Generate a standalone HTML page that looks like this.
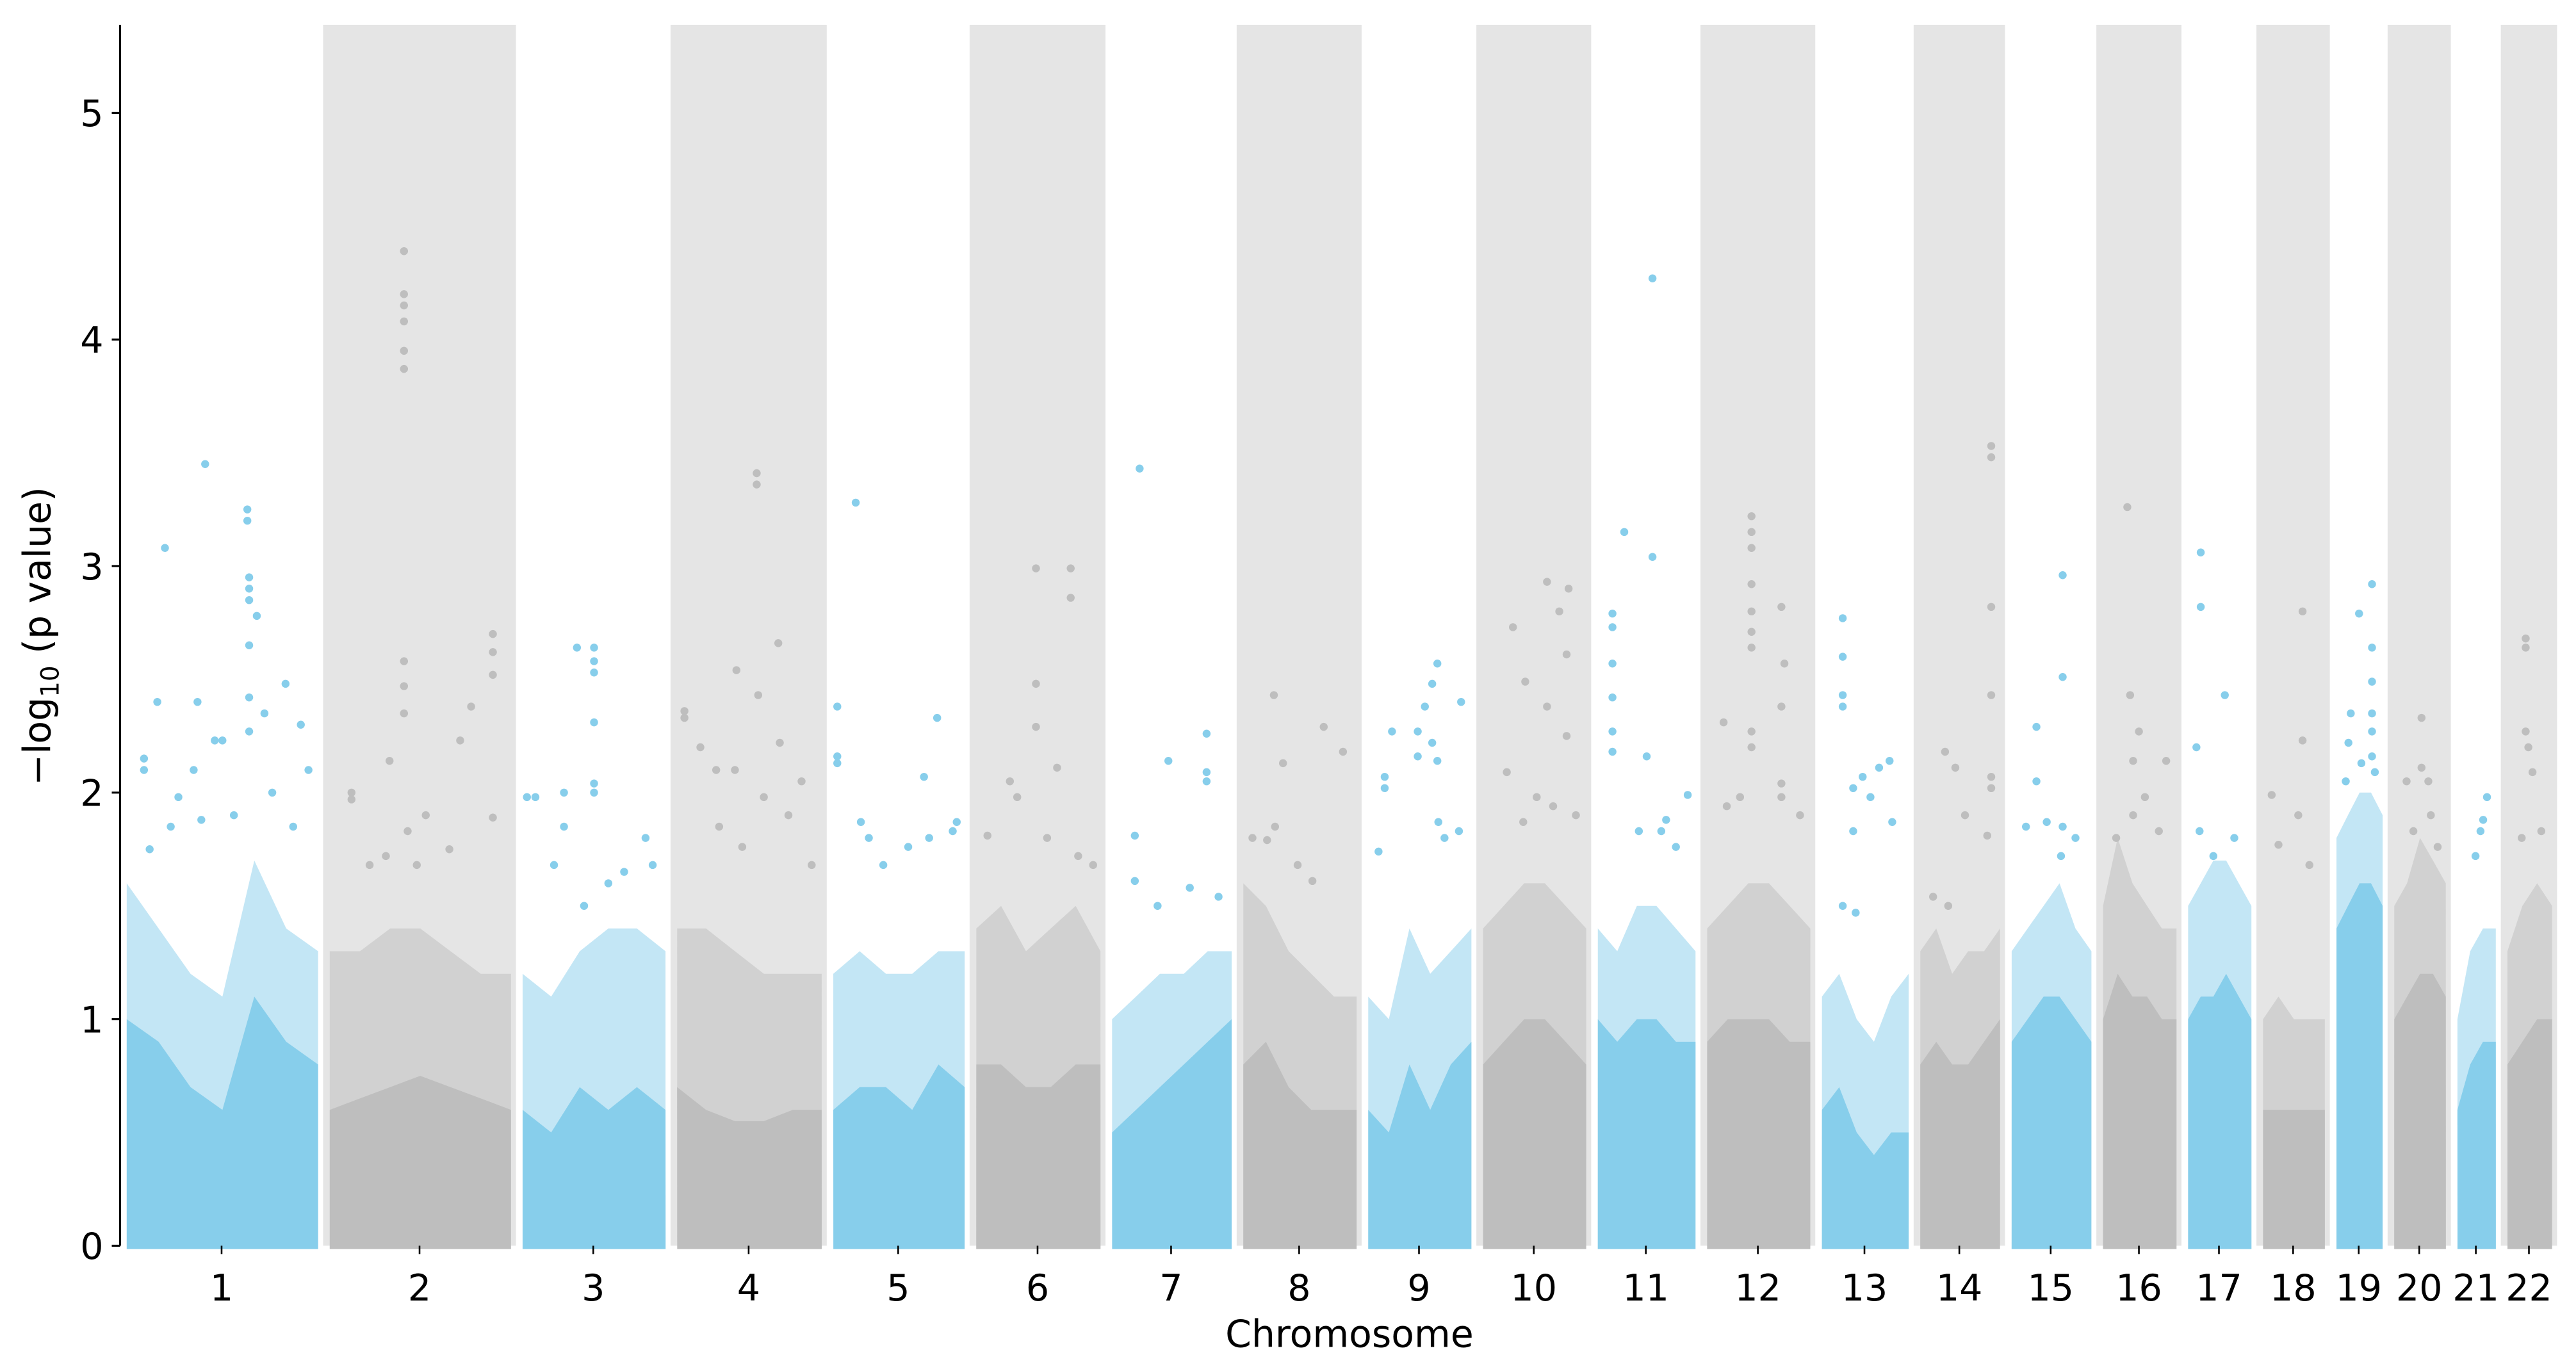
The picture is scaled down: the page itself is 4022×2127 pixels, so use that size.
<!DOCTYPE html>
<html><head><meta charset="utf-8"><style>
html,body{margin:0;padding:0;background:#fff;}
svg{display:block;}
text{font-family:"DejaVu Sans","Liberation Sans",sans-serif;fill:#000;}
</style></head><body>
<svg id="chart" width="4022" height="2127" viewBox="0 0 1550 820" xmlns="http://www.w3.org/2000/svg">
<g id="bands"></g>
<g id="dense"></g>
<g id="pts"></g>
<g id="axes"></g>
<text x="812" y="811" font-size="22.5" text-anchor="middle">Chromosome</text>
<text transform="translate(30,383) rotate(-90)" font-size="22.5" text-anchor="middle">−log<tspan font-size="15" dy="5">10</tspan><tspan dy="-5"> (p value)</tspan></text>
</svg>
<script>
const chromNames = ["1","2","3","4","5","6","7","8","9","10","11","12","13","14","15","16","17","18","19","20","21","22"];
const chromLengths = [260,247,198,200,183,174,168,160,147,147,140,147,126,117,117,109,96,94,74,81,64,72];
const yTicks = [0,1,2,3,4,5];
const solidTop = [
 [1.0,0.9,0.7,0.6,1.1,0.9,0.8],[0.6,0.65,0.7,0.75,0.7,0.65,0.6],[0.6,0.5,0.7,0.6,0.7,0.6],
 [0.7,0.6,0.55,0.55,0.6,0.6],[0.6,0.7,0.7,0.6,0.8,0.7],[0.8,0.8,0.7,0.7,0.8,0.8],
 [0.5,0.6,0.7,0.8,0.9,1.0],[0.8,0.9,0.7,0.6,0.6,0.6],[0.6,0.5,0.8,0.6,0.8,0.9],
 [0.8,0.9,1.0,1.0,0.9,0.8],[1.0,0.9,1.0,1.0,0.9,0.9],[0.9,1.0,1.0,1.0,0.9,0.9],
 [0.6,0.7,0.5,0.4,0.5,0.5],[0.8,0.9,0.8,0.8,0.9,1.0],[0.9,1.0,1.1,1.1,1.0,0.9],
 [1.0,1.2,1.1,1.1,1.0,1.0],[1.0,1.1,1.1,1.2,1.1,1.0],[0.6,0.6,0.6,0.6,0.6],
 [1.4,1.5,1.6,1.6,1.5],[1.0,1.1,1.2,1.2,1.1],[0.6,0.8,0.9,0.9],[0.8,0.9,1.0,1.0]];
const midTop = [
 [1.6,1.4,1.2,1.1,1.7,1.4,1.3],[1.3,1.3,1.4,1.4,1.3,1.2,1.2],[1.2,1.1,1.3,1.4,1.4,1.3],
 [1.4,1.4,1.3,1.2,1.2,1.2],[1.2,1.3,1.2,1.2,1.3,1.3],[1.4,1.5,1.3,1.4,1.5,1.3],
 [1.0,1.1,1.2,1.2,1.3,1.3],[1.6,1.5,1.3,1.2,1.1,1.1],[1.1,1.0,1.4,1.2,1.3,1.4],
 [1.4,1.5,1.6,1.6,1.5,1.4],[1.4,1.3,1.5,1.5,1.4,1.3],[1.4,1.5,1.6,1.6,1.5,1.4],
 [1.1,1.2,1.0,0.9,1.1,1.2],[1.3,1.4,1.2,1.3,1.3,1.4],[1.3,1.4,1.5,1.6,1.4,1.3],
 [1.5,1.8,1.6,1.5,1.4,1.4],[1.5,1.6,1.7,1.7,1.6,1.5],[1.0,1.1,1.0,1.0,1.0],
 [1.8,1.9,2.0,2.0,1.9],[1.5,1.6,1.8,1.7,1.6],[1.0,1.3,1.4,1.4],[1.3,1.5,1.6,1.5]];
// [position fraction within chromosome, -log10 p]
const peakPoints = [
 [[0.2,3.08],[0.41,3.45],[0.63,3.25],[0.63,3.2],[0.64,2.95],[0.64,2.9],[0.64,2.85],[0.64,2.65],[0.68,2.78],[0.83,2.48],[0.16,2.4],[0.37,2.4],[0.09,2.15],[0.09,2.1],[0.46,2.23],[0.5,2.23],[0.91,2.3],[0.95,2.1],[0.27,1.98],[0.72,2.35],[0.64,2.42],[0.64,2.27],[0.35,2.1],[0.23,1.85],[0.56,1.9],[0.76,2.0],[0.87,1.85],[0.12,1.75],[0.39,1.88]],
 [[0.41,4.39],[0.41,4.2],[0.41,4.15],[0.41,4.08],[0.41,3.95],[0.41,3.87],[0.41,2.58],[0.41,2.47],[0.41,2.35],[0.33,2.14],[0.12,2.0],[0.12,1.97],[0.9,2.7],[0.9,2.62],[0.9,2.52],[0.78,2.38],[0.72,2.23],[0.9,1.89],[0.53,1.9],[0.43,1.83],[0.66,1.75],[0.22,1.68],[0.31,1.72],[0.48,1.68]],
 [[0.38,2.64],[0.5,2.64],[0.5,2.58],[0.5,2.53],[0.5,2.31],[0.5,2.04],[0.5,2.0],[0.09,1.98],[0.03,1.98],[0.29,2.0],[0.29,1.85],[0.86,1.8],[0.91,1.68],[0.6,1.6],[0.71,1.65],[0.22,1.68],[0.43,1.5]],
 [[0.55,3.41],[0.55,3.36],[0.7,2.66],[0.41,2.54],[0.56,2.43],[0.05,2.36],[0.05,2.33],[0.16,2.2],[0.71,2.22],[0.27,2.1],[0.4,2.1],[0.86,2.05],[0.6,1.98],[0.29,1.85],[0.93,1.68],[0.77,1.9],[0.45,1.76]],
 [[0.17,3.28],[0.03,2.38],[0.03,2.16],[0.03,2.13],[0.79,2.33],[0.69,2.07],[0.21,1.87],[0.27,1.8],[0.57,1.76],[0.91,1.83],[0.94,1.87],[0.38,1.68],[0.73,1.8]],
 [[0.48,2.99],[0.76,2.99],[0.76,2.86],[0.48,2.48],[0.48,2.29],[0.65,2.11],[0.27,2.05],[0.33,1.98],[0.82,1.72],[0.09,1.81],[0.57,1.8],[0.94,1.68]],
 [[0.23,3.43],[0.79,2.26],[0.79,2.09],[0.79,2.05],[0.47,2.14],[0.19,1.81],[0.19,1.61],[0.65,1.58],[0.38,1.5],[0.89,1.54]],
 [[0.27,2.43],[0.71,2.29],[0.35,2.13],[0.88,2.18],[0.28,1.85],[0.21,1.79],[0.48,1.68],[0.08,1.8],[0.61,1.61]],
 [[0.67,2.57],[0.62,2.48],[0.55,2.38],[0.9,2.4],[0.23,2.27],[0.48,2.27],[0.62,2.22],[0.48,2.16],[0.67,2.14],[0.16,2.07],[0.16,2.02],[0.68,1.87],[0.1,1.74],[0.74,1.8],[0.88,1.83]],
 [[0.62,2.93],[0.83,2.9],[0.29,2.73],[0.74,2.8],[0.81,2.61],[0.41,2.49],[0.62,2.38],[0.81,2.25],[0.23,2.09],[0.52,1.98],[0.9,1.9],[0.68,1.94],[0.39,1.87]],
 [[0.56,4.27],[0.27,3.15],[0.56,3.04],[0.15,2.79],[0.15,2.73],[0.15,2.57],[0.15,2.42],[0.15,2.27],[0.15,2.18],[0.5,2.16],[0.92,1.99],[0.7,1.88],[0.65,1.83],[0.42,1.83],[0.8,1.76]],
 [[0.43,3.22],[0.43,3.15],[0.43,3.08],[0.72,2.82],[0.43,2.92],[0.43,2.8],[0.43,2.71],[0.43,2.64],[0.75,2.57],[0.16,2.31],[0.43,2.27],[0.43,2.2],[0.72,2.38],[0.72,2.04],[0.72,1.98],[0.19,1.94],[0.32,1.98],[0.9,1.9]],
 [[0.24,2.77],[0.24,2.6],[0.24,2.43],[0.24,2.38],[0.78,2.14],[0.66,2.11],[0.36,2.02],[0.47,2.07],[0.56,1.98],[0.36,1.83],[0.81,1.87],[0.24,1.5],[0.39,1.47]],
 [[0.89,3.53],[0.89,3.48],[0.89,2.82],[0.89,2.43],[0.89,2.07],[0.89,2.02],[0.31,2.18],[0.44,2.11],[0.84,1.81],[0.56,1.9],[0.16,1.54],[0.35,1.5]],
 [[0.64,2.96],[0.64,2.51],[0.31,2.29],[0.31,2.05],[0.44,1.87],[0.64,1.85],[0.18,1.85],[0.8,1.8],[0.62,1.72]],
 [[0.33,3.26],[0.37,2.43],[0.49,2.27],[0.41,2.14],[0.86,2.14],[0.57,1.98],[0.41,1.9],[0.76,1.83],[0.18,1.8]],
 [[0.2,3.06],[0.2,2.82],[0.58,2.43],[0.13,2.2],[0.18,1.83],[0.73,1.8],[0.4,1.72]],
 [[0.64,2.8],[0.64,2.23],[0.14,1.99],[0.57,1.9],[0.25,1.77],[0.75,1.68]],
 [[0.77,2.92],[0.49,2.79],[0.77,2.64],[0.77,2.49],[0.31,2.35],[0.77,2.35],[0.77,2.27],[0.77,2.16],[0.26,2.22],[0.54,2.13],[0.2,2.05],[0.83,2.09]],
 [[0.53,2.33],[0.53,2.11],[0.66,2.05],[0.24,2.05],[0.71,1.9],[0.37,1.83],[0.84,1.76]],
 [[0.77,1.98],[0.67,1.88],[0.47,1.72],[0.6,1.83]],
 [[0.41,2.68],[0.41,2.64],[0.41,2.27],[0.47,2.2],[0.56,2.09],[0.32,1.8],[0.76,1.83]]
];

const NS="http://www.w3.org/2000/svg";
const X0=72, PXPERMB=0.47, Y0=750, PXPERUNIT=136.4, YTOP=15;
function xScale(mb){return X0+mb*PXPERMB;}
function yScale(v){return Y0-v*PXPERUNIT;}
function mk(tag,attrs,parent){const e=document.createElementNS(NS,tag);for(const k in attrs)e.setAttribute(k,attrs[k]);parent.appendChild(e);return e;}
const bands=document.getElementById('bands'),dense=document.getElementById('dense'),pts=document.getElementById('pts'),axes=document.getElementById('axes');
const BLUE="#87ceeb",GRAY="#bebebe";
let cum=0;
chromNames.forEach((name,i)=>{
  const s=cum,e=cum+chromLengths[i];cum=e;
  const xs=xScale(s),xe=xScale(e);
  const col=i%2===0?BLUE:GRAY;
  if(i%2===1){
    const r=mk('rect',{x:xs,y:YTOP,width:xe-xs,height:Y0-YTOP,fill:"#e5e5e5"},bands);
    
    
  }
  const a=xs+4,b=xe-3;
  function poly(arr,op,nm){
    let d=`M${a},${Y0+2} `;
    arr.forEach((v,k)=>{const x=a+(b-a)*k/(arr.length-1);d+=`L${x.toFixed(1)},${yScale(v).toFixed(1)} `;});
    d+=`L${b},${Y0+2} Z`;
    const p=mk('path',{d:d,fill:col,'fill-opacity':op},dense);
    
    
  }
  poly(midTop[i],0.5,'sparse-region');
  poly(solidTop[i],1,'dense-region');
  peakPoints[i].forEach(pv=>{
    const c=mk('circle',{cx:(a+(b-a)*pv[0]).toFixed(1),cy:yScale(pv[1]).toFixed(1),r:2.4,fill:col},pts);
    
    
  });
  const cx=(xs+xe)/2;
  const t=mk('line',{x1:cx,x2:cx,y1:Y0,y2:Y0+5,stroke:"#000","stroke-width":1},axes);
  
  
  const lb=mk('text',{x:cx,y:Y0+33,'font-size':22,'text-anchor':'middle'},axes);
  lb.textContent=name;
  
  
});
const sp=mk('line',{x1:X0,x2:X0,y1:YTOP,y2:Y0,stroke:"#000","stroke-width":1.2},axes);


yTicks.forEach(v=>{
  const y=yScale(v);
  const t=mk('line',{x1:X0-5,x2:X0,y1:y,y2:y,stroke:"#000","stroke-width":1.2},axes);
  
  
  const l=mk('text',{x:X0-10,y:y+8,'font-size':22,'text-anchor':'end'},axes);
  l.textContent=v;
  
  
});
</script>
</body></html>
